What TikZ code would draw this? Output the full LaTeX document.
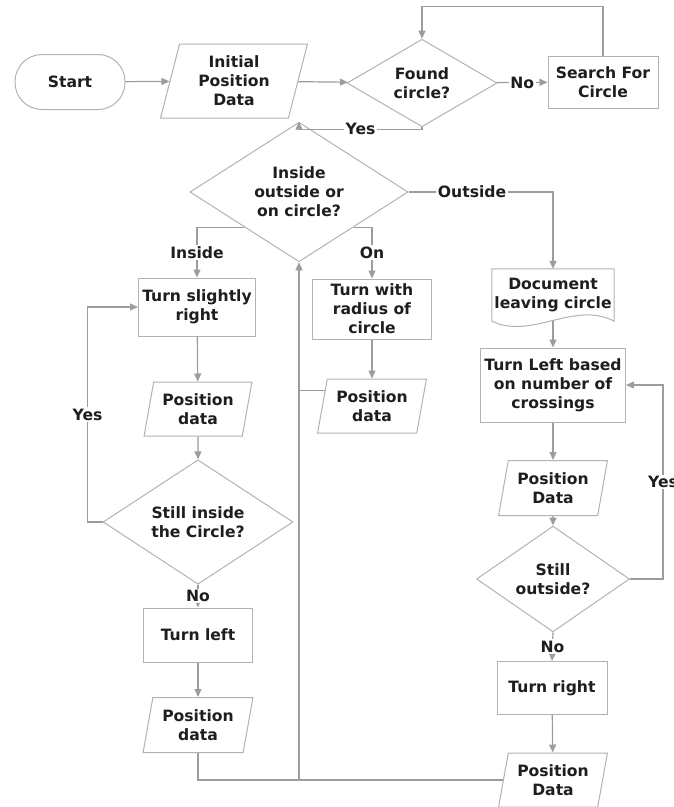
\documentclass[tikz,border=0pt]{standalone}
\usepackage{fontspec}
\setmainfont{DejaVu Sans}
\usetikzlibrary{shapes.geometric,arrows.meta,calc}
\definecolor{linec}{HTML}{9C9C9C}
\definecolor{edgec}{HTML}{B2B2B2}
\definecolor{txtc}{HTML}{1E1E1E}
\begin{document}
\begin{tikzpicture}[x=1pt,y=-1pt,
  every node/.style={font=\fontsize{15.6}{19}\selectfont\bfseries, text=txtc, align=center},
  proc/.style={rectangle, draw=edgec, line width=1pt, inner sep=0pt},
  term/.style={rectangle, rounded corners=27pt, draw=edgec, line width=1pt, inner sep=0pt},
  dec/.style={diamond, draw=edgec, line width=1pt, inner sep=0pt},
  inout/.style={trapezium, trapezium left angle=76, trapezium right angle=104,
    trapezium stretches=true, draw=edgec, line width=1pt, inner sep=0pt},
  lbl/.style={fill=white, inner sep=1.5pt},
  arr/.style={draw=linec, line width=1.2pt, -{Triangle[length=8pt,width=7pt,fill=linec]}},
  ln/.style={draw=linec, line width=1.2pt}]
\useasboundingbox (0,0) rectangle (674,807);
\node[term, minimum width=110, minimum height=55] (st) at (70,82) {Start};
\node[inout, minimum width=148, minimum height=74] (ip) at (234,81) {Initial\\Position\\Data};
\node[dec, minimum width=150, minimum height=78] (fc) at (422,83) {Found\\circle?};
\node[proc, minimum width=110, minimum height=52] (sc) at (603,82) {Search For\\Circle};
\node[dec, minimum width=218, minimum height=106] (io) at (299,192) {Inside\\outside or\\on circle?};
\node[proc, minimum width=117, minimum height=58] (ts) at (197,307) {Turn slightly\\right};
\node[proc, minimum width=119, minimum height=60] (rc) at (372,309) {Turn with\\radius of\\circle};
\node[inout, minimum width=108, minimum height=54] (pd1) at (198,409) {Position\\data};
\node[inout, minimum width=109, minimum height=54] (pd2) at (372,406) {Position\\data};
\node[dec, minimum width=190, minimum height=97] (si) at (198,522) {Still inside\\the Circle?};
\node[proc, minimum width=109, minimum height=54] (tl) at (198,635) {Turn left};
\node[inout, minimum width=110, minimum height=55] (pd3) at (198,725) {Position\\data};
\node[minimum width=122, minimum height=52, inner sep=0pt] (doc) at (553,295) {Document\\leaving circle};
\node[proc, minimum width=145, minimum height=74] (tb) at (553,385) {Turn Left based\\on number of\\crossings};
\node[inout, minimum width=109, minimum height=55] (pd4) at (553,488) {Position\\Data};
\node[dec, minimum width=153, minimum height=78] (so) at (553,579) {Still\\outside?};
\node[proc, minimum width=110, minimum height=53] (tr) at (552,688) {Turn right};
\node[inout, minimum width=109, minimum height=54] (pd5) at (553,780) {Position\\Data};
\draw[draw=edgec, line width=1pt] (doc.south west) -- (doc.north west) -- (doc.north east) -- (doc.south east)
  .. controls +(-40,-21) and +(40,19) .. (doc.south west);
\draw[arr] (st) -- (ip);
\draw[arr] (ip) -- (fc);
\draw[arr] (fc) -- node[lbl] {No} (sc);
\draw[arr] (sc.north) -- ++(0,-49) -| (fc.north);
\draw[arr] (fc.south) -- ++(0,2) -| node[lbl, pos=0.25] {Yes} (io.north);
\draw[arr] (io.east) -| node[lbl, pos=0.22] {Outside} (doc.north);
\draw[arr] ($(io.south)!0.5!(io.west)$) -| node[lbl, pos=0.75] {Inside} (ts.north);
\draw[arr] ($(io.south)!0.5!(io.east)$) -| node[lbl, pos=0.75] {On} (rc.north);
\draw[arr] (ts) -- (pd1);
\draw[arr] (rc) -- (pd2);
\draw[arr] (pd1) -- (si);
\draw[arr] (si.west) -- ++(-15,0) |- node[lbl, pos=0.25] {Yes} (ts.west);
\draw[arr] (si.south) -- node[lbl] {No} (tl.north);
\draw[arr] (tl) -- (pd3);
\coordinate (pj) at ($(pd2.top left corner)!0.22!(pd2.bottom left corner)$);
\draw[ln] (pj) -- (pj -| io.south);
\draw[ln] (pd3.south) |- (pd5.west);
\draw[arr] (pd5.west -| io.south) -- (io.south);
\draw[arr] (doc.south) -- (tb.north);
\draw[arr] (tb) -- (pd4);
\draw[arr] (pd4) -- (so);
\draw[arr] (so.east) -- ++(33,0) |- node[lbl, pos=0.25] {Yes} (tb.east);
\draw[arr] (so.south) -- node[lbl] {No} (tr.north);
\draw[arr] (tr) -- (pd5);
\end{tikzpicture}
\end{document}
